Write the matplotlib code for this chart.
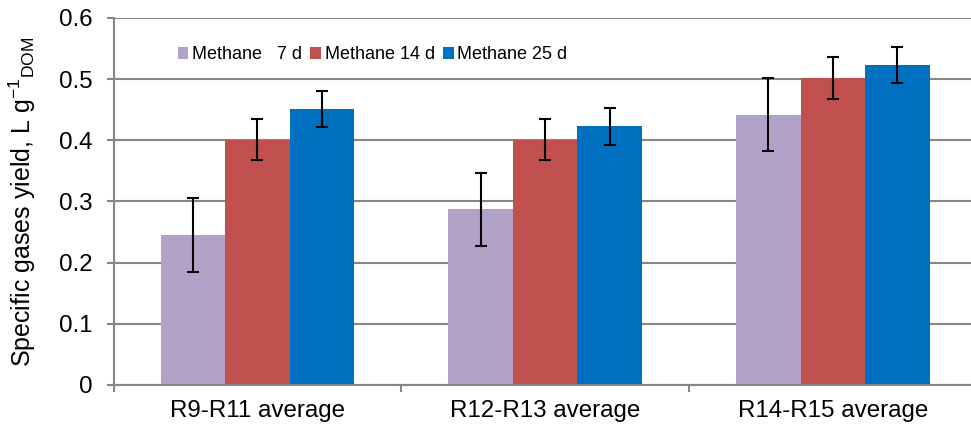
import matplotlib
matplotlib.use("Agg")
import matplotlib.pyplot as plt
import numpy as np

# Data
categories = ["R9-R11 average", "R12-R13 average", "R14-R15 average"]
series_names = ["Methane   7 d", "Methane 14 d", "Methane 25 d"]
methane_7d = [0.245, 0.287, 0.442]
methane_14d = [0.401, 0.401, 0.502]
methane_25d = [0.451, 0.423, 0.523]
err_7d = [0.06, 0.06, 0.06]
err_14d = [0.034, 0.034, 0.034]
err_25d = [0.03, 0.03, 0.03]
colors = ["#B3A2C7", "#C0504D", "#0070C0"]

plt.rcParams["font.family"] = ["Liberation Sans", "DejaVu Sans"]
plt.rcParams["mathtext.default"] = "regular"

fig = plt.figure(figsize=(9.71, 4.28), dpi=100)
ax = fig.add_axes([0.1169, 0.1005, 0.889, 0.8575])

x = np.arange(len(categories))
width = 0.224
values = [methane_7d, methane_14d, methane_25d]
errors = [err_7d, err_14d, err_25d]
for i in range(3):
    ax.bar(x + (i - 1) * width, values[i], width, color=colors[i],
           label=series_names[i], zorder=2,
           yerr=errors[i], capsize=4.5,
           error_kw=dict(ecolor="black", elinewidth=1.5, capthick=1.5, zorder=3))

ax.set_xlim(-0.5, 2.5)
ax.set_ylim(0, 0.6)
ax.set_yticks([0, 0.1, 0.2, 0.3, 0.4, 0.5, 0.6])
ax.set_yticklabels(["0", "0.1", "0.2", "0.3", "0.4", "0.5", "0.6"])
ax.yaxis.grid(True, color="#868686", linewidth=1.5, zorder=0)
ax.set_axisbelow(True)

# category boundary ticks
ax.set_xticks([-0.5, 0.5, 1.5, 2.5])
ax.set_xticklabels([])
ax.set_xticks(x, minor=True)
ax.set_xticklabels(categories, minor=True, fontsize=17.4)
ax.tick_params(axis="x", which="minor", length=0, pad=11)
ax.tick_params(axis="x", which="major", length=5, width=1.5, color="#868686")
ax.tick_params(axis="y", length=5, width=1.5, color="#868686", labelsize=17.4, pad=10)

for s in ["top", "right"]:
    ax.spines[s].set_visible(False)
for s in ["left", "bottom"]:
    ax.spines[s].set_color("#868686")
    ax.spines[s].set_linewidth(1.5)

ax.set_ylabel("Specific gases yield, L g$^{-1}$$_{DOM}$", fontsize=18, labelpad=15.5)

ax.legend(loc="center", bbox_to_anchor=(0.30, 0.9), ncol=3, frameon=False,
          handlelength=0.6, handleheight=0.6, handletextpad=0.2, columnspacing=0.45,
          prop={"size": 13})

fig.savefig("out.png", dpi=100)
